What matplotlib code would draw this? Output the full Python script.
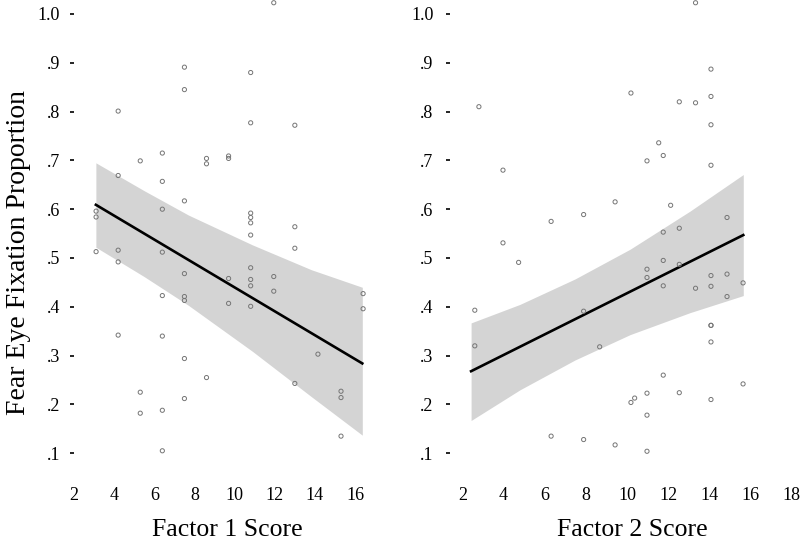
import matplotlib
matplotlib.use("Agg")
import matplotlib.pyplot as plt

plt.rcParams['font.family'] = ['Liberation Serif', 'DejaVu Serif']

# Factor 1 panel: scores and fear-eye fixation proportions
f1_x = [3.1, 3.1, 3.1,
        4.2, 4.2, 4.2, 4.2, 4.2,
        5.3, 5.3, 5.3,
        6.4, 6.4, 6.4, 6.4, 6.4, 6.4, 6.4, 6.4,
        7.5, 7.5, 7.5, 7.5, 7.5, 7.5, 7.5, 7.5,
        8.6, 8.6, 8.6,
        9.7, 9.7, 9.7, 9.7,
        10.8, 10.8, 10.8, 10.8, 10.8, 10.8, 10.8, 10.8, 10.8, 10.8,
        11.95, 11.95, 11.95,
        13.0, 13.0, 13.0, 13.0,
        14.15,
        15.3, 15.3, 15.3,
        16.4, 16.4]
f1_y = [0.596, 0.584, 0.513,
        0.801, 0.669, 0.516, 0.492, 0.342,
        0.699, 0.225, 0.182,
        0.715, 0.657, 0.600, 0.512, 0.423, 0.340, 0.188, 0.105,
        0.891, 0.845, 0.617, 0.468, 0.421, 0.413, 0.294, 0.212,
        0.704, 0.693, 0.255,
        0.709, 0.704, 0.458, 0.407,
        0.880, 0.777, 0.592, 0.583, 0.572, 0.547, 0.480, 0.456, 0.443, 0.401,
        1.023, 0.462, 0.432,
        0.772, 0.564, 0.520, 0.243,
        0.303,
        0.227, 0.214, 0.135,
        0.427, 0.396]

# fitted line ends and 95% band edges
f1_fit_x = [3.09, 16.36]
f1_fit_y = [0.609, 0.284]
f1_band_x = [3.09, 5.49, 7.70, 10.88, 13.82, 16.36]
f1_band_hi = [0.695, 0.638, 0.588, 0.527, 0.476, 0.440]
f1_band_lo = [0.522, 0.462, 0.403, 0.309, 0.216, 0.137]

# Factor 2 panel
f2_x = [2.8, 2.6, 2.6,
        3.97, 3.97,
        4.73,
        6.31, 6.31,
        7.89, 7.89, 7.89,
        8.67,
        9.42, 9.42,
        10.19, 10.19, 10.37,
        10.97, 10.97, 10.97, 10.97, 10.97, 10.97,
        11.54, 11.76, 11.76, 11.76, 11.76, 11.76,
        12.12,
        12.54, 12.54, 12.54, 12.54,
        13.33, 13.33, 13.33,
        14.08, 14.08, 14.08, 14.08, 14.08, 14.08, 14.08, 14.08, 14.08, 14.08,
        14.86, 14.86, 14.86,
        15.64, 15.64]
f2_y = [0.810, 0.393, 0.320,
        0.680, 0.531,
        0.491,
        0.575, 0.135,
        0.589, 0.391, 0.128,
        0.318,
        0.615, 0.117,
        0.838, 0.204, 0.213,
        0.699, 0.477, 0.460, 0.223, 0.178, 0.104,
        0.736, 0.710, 0.553, 0.495, 0.443, 0.260,
        0.608,
        0.820, 0.561, 0.487, 0.224,
        1.023, 0.818, 0.438,
        0.887, 0.831, 0.773, 0.690, 0.464, 0.442, 0.362, 0.362, 0.328, 0.210,
        0.583, 0.467, 0.421,
        0.449, 0.242]

f2_fit_x = [2.42, 15.65]
f2_fit_y = [0.268, 0.547]
f2_band_x = [2.42, 4.80, 7.47, 10.15, 13.06, 15.65]
f2_band_hi = [0.367, 0.405, 0.457, 0.518, 0.596, 0.671]
f2_band_lo = [0.167, 0.230, 0.291, 0.343, 0.388, 0.423]

f1_ticks = [2, 4, 6, 8, 10, 12, 14, 16]
f2_ticks = [2, 4, 6, 8, 10, 12, 14, 16, 18]
y_ticks = [0.1, 0.2, 0.3, 0.4, 0.5, 0.6, 0.7, 0.8, 0.9, 1.0]
y_ticklabels = ['.1', '.2', '.3', '.4', '.5', '.6', '.7', '.8', '.9', '1.0']


def draw_panel(ax, x, y, fit_x, fit_y, bx, blo, bhi, xlim, ticks,
               xlabel, label_x, ypad):
    ax.fill_between(bx, blo, bhi, color='#d4d4d4', lw=0, zorder=1)
    ax.plot(fit_x, fit_y, color='black', lw=1.9, zorder=2)
    ax.scatter(x, y, s=9, facecolors='none', edgecolors='#757575',
               linewidths=0.7, zorder=3, clip_on=False)

    ax.set_xlim(*xlim)
    ax.set_ylim(0.04, 1.028)
    ax.set_xticks(ticks)
    ax.set_xticklabels([str(t) for t in ticks])
    ax.set_yticks(y_ticks)
    ax.set_yticklabels(y_ticklabels)
    for sp in ax.spines.values():
        sp.set_visible(False)
    ax.tick_params(axis='x', length=0, pad=3, labelsize=13)
    ax.tick_params(axis='y', direction='out', length=3, width=1.2,
                   pad=ypad, labelsize=13)
    ax.set_xlabel(xlabel, fontsize=18.5)
    ax.xaxis.label.set_va('center')
    ax.xaxis.set_label_coords(label_x, -0.099)


fig = plt.figure(figsize=(8, 5.43), dpi=100)
W, H = 800.0, 543.0
bottom = 1 - 482.5 / H
height = 482.2 / H
ax1 = fig.add_axes([74 / W, bottom, 316 / W, height])
ax2 = fig.add_axes([450 / W, bottom, 348 / W, height])

draw_panel(ax1, f1_x, f1_y, f1_fit_x, f1_fit_y, f1_band_x, f1_band_lo,
           f1_band_hi, (2.255, 17.74), f1_ticks, 'Factor 1 Score', 0.484, 7)
draw_panel(ax2, f2_x, f2_y, f2_fit_x, f2_fit_y, f2_band_x, f2_band_lo,
           f2_band_hi, (1.395, 18.31), f2_ticks, 'Factor 2 Score', 0.523, 9)

ax1.set_ylabel('Fear Eye Fixation Proportion', fontsize=20)
ax1.yaxis.label.set_va('center')
ax1.yaxis.set_label_coords(-0.177, 0.478)

fig.savefig('out.png', dpi=100)
